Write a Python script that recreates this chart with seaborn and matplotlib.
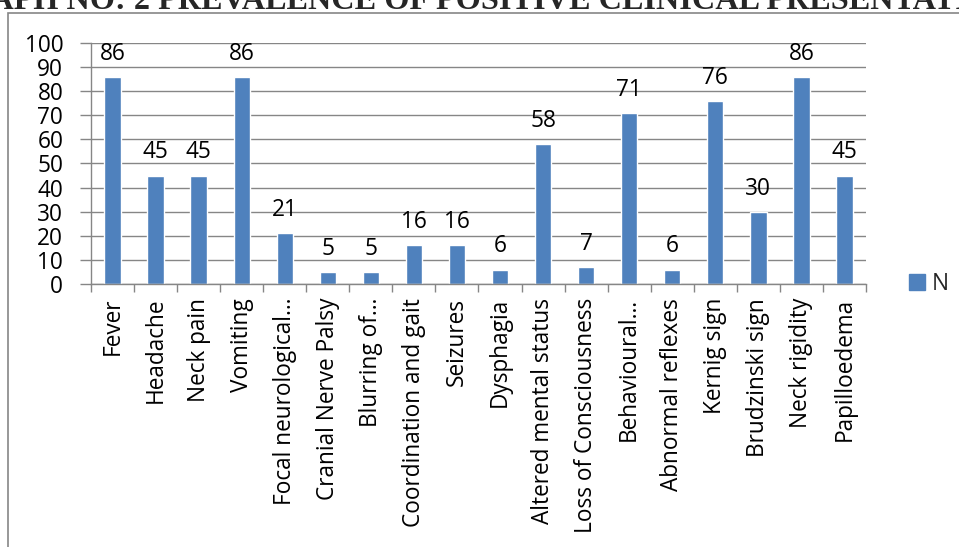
import numpy as np
import pandas as pd
import matplotlib
matplotlib.use("Agg")
import matplotlib.pyplot as plt
import seaborn as sns
from matplotlib.patches import Rectangle, Patch
from matplotlib.ticker import FixedLocator

# --- data ---
symptoms = [
    "Fever", "Headache", "Neck pain", "Vomiting", "Focal neurological\u2026",
    "Cranial Nerve Palsy", "Blurring of\u2026", "Coordination and gait",
    "Seizures", "Dysphagia", "Altered mental status", "Loss of Consciousness",
    "Behavioural\u2026", "Abnormal reflexes", "Kernig sign", "Brudzinski sign",
    "Neck rigidity", "Papilloedema",
]
counts = [86, 45, 45, 86, 21, 5, 5, 16, 16, 6, 58, 7, 71, 6, 76, 30, 86, 45]
y_ticks = list(range(0, 101, 10))
series_name = "N"
title = "GRAPH NO: 2 PREVALENCE OF POSITIVE CLINICAL PRESENTATION"

BAR = "#4F81BD"
GRAY = "#868686"
FS = 16.3

sns.set_theme(style="white")
plt.rcParams['font.family'] = ['Open Sans', 'DejaVu Sans']

df = pd.DataFrame({"symptom": symptoms, "count": counts})

W, H = 959, 547
fig = plt.figure(figsize=(W / 100, H / 100), dpi=100)
fig.patch.set_facecolor("white")

# plot area in pixel terms
left, right, top, bottom = 91, 866, 43, 284
ax = fig.add_axes([left / W, 1 - bottom / H, (right - left) / W, (bottom - top) / H])

sns.barplot(data=df, x="symptom", y="count", color=BAR, saturation=1,
            width=0.38, ax=ax)

for cont in ax.containers:
    ax.bar_label(cont, labels=[str(v) for v in counts], padding=8,
                 fontsize=FS, color="black")

ax.set_xlim(-0.5, len(symptoms) - 0.5)
ax.set_ylim(0, 100)
ax.set_yticks(y_ticks)
ax.set_xlabel("")
ax.set_ylabel("")
ax.set_xticks(range(len(symptoms)))
ax.set_xticklabels(symptoms, rotation=90, fontsize=FS)
ax.xaxis.set_minor_locator(FixedLocator(np.arange(-0.5, len(symptoms), 1)))

ax.tick_params(axis="x", which="major", bottom=True, length=0, pad=10,
               labelsize=FS, labelcolor="black")
ax.tick_params(axis="x", which="minor", bottom=True, length=6, width=1,
               color=GRAY, direction="out")
ax.tick_params(axis="y", left=True, length=8, width=1, color=GRAY,
               direction="out", pad=12, labelsize=FS, labelcolor="black")

ax.yaxis.grid(True, color=GRAY, lw=1)
ax.set_axisbelow(True)
for s in ["top", "right"]:
    ax.spines[s].set_visible(False)
for s in ["left", "bottom"]:
    ax.spines[s].set_color(GRAY)
    ax.spines[s].set_linewidth(1)

# legend
ax.legend(handles=[Patch(color=BAR, label=series_name)],
          loc="center left", bbox_to_anchor=(909 / W, 1 - 284 / H),
          bbox_transform=fig.transFigure, frameon=False, fontsize=FS,
          handlelength=0.7, handleheight=0.7, handletextpad=0.3,
          borderpad=0, borderaxespad=0)

# chart frame (runs off the right and bottom)
fig.add_artist(Rectangle((8 / W, -0.5), 2, 0.5 + 1 - 13 / H,
                         transform=fig.transFigure, fill=False,
                         edgecolor=GRAY, lw=1.2))

# title, clipped at the top of the image
fig.text(0.5, 1 - 9 / H, title, ha="center", va="baseline",
         family="Liberation Serif", fontweight="bold", fontsize=23.2)

fig.savefig("out.png", dpi=100)
